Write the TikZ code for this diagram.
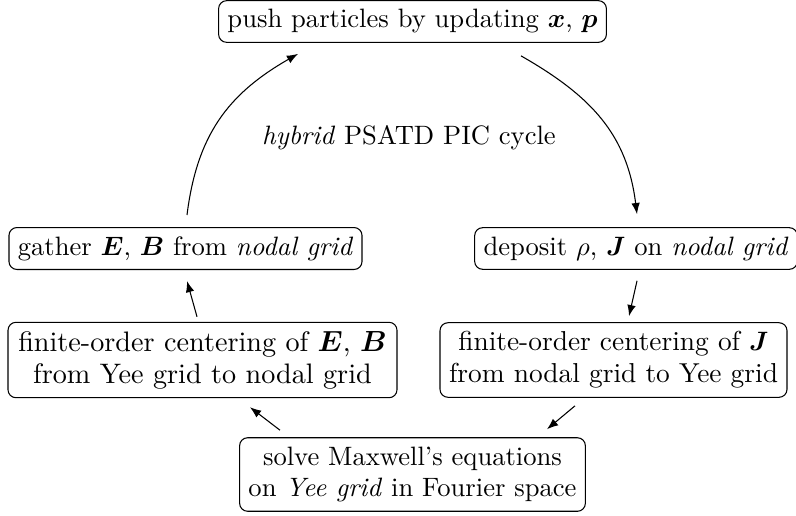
\documentclass[tikz,border=0pt]{standalone}
\usepackage{amsmath}
\usepackage{bm}
\usetikzlibrary{arrows.meta,calc}
\tikzset{
  box/.style={draw, rounded corners=3pt, align=center, inner sep=3.33pt, line width=0.4pt},
  arr/.style={-{Latex[length=4.2pt,width=3.2pt]}, line width=0.4pt},
}
\begin{document}
\begin{tikzpicture}[x=0.376pt,y=-0.376pt]
\useasboundingbox (0,0) rectangle (796,515);
\node[box] (push) at (412.5,21.5) {push particles by updating $\bm{x}$, $\bm{p}$};
\node[box] (gather) at (185.5,248.5) {gather $\bm{E}$, $\bm{B}$ from \textit{nodal grid}};
\node[box] (dep) at (636,248.5) {deposit $\rho$, $\bm{J}$ on \textit{nodal grid}};
\node[box, minimum width=389*0.376pt, font=\fontsize{10.6pt}{12pt}\selectfont] (finE) at (202.5,360) {finite-order centering of $\bm{E}$, $\bm{B}$\\from Yee grid to nodal grid};
\node[box, minimum width=347*0.376pt, font=\fontsize{10.3pt}{12pt}\selectfont] (finJ) at (613.5,360) {finite-order centering of $\bm{J}$\\from nodal grid to Yee grid};
\node[box] (solve) at (412.5,474.5) {solve Maxwell's equations\\on \textit{Yee grid} in Fourier space};
\node (lab) at (409,138) {\textit{hybrid} PSATD PIC cycle};

\draw[arr] ($(gather.north)+(1.5,-12)$) .. controls +(10,-80) and +(-70,40) .. ($(push.south)+(-114.5,11)$);
\draw[arr] ($(push.south)+(108.5,13)$) .. controls +(70,40) and +(-10,-80) .. ($(dep.north)+(1,-13)$);
\draw[arr] ($(dep.south)+(1,11)$) -- ($(finJ.north)+(15.5,-6)$);
\draw[arr] ($(finJ.south)+(-38.5,8)$) -- ($(solve.north)+(134.5,-8)$);
\draw[arr] ($(solve.north)+(-132.5,-7)$) -- ($(finE.south)+(47.5,9)$);
\draw[arr] ($(finE.north)+(-5.5,-5)$) -- ($(gather.south)+(1.5,11)$);
\end{tikzpicture}
\end{document}
